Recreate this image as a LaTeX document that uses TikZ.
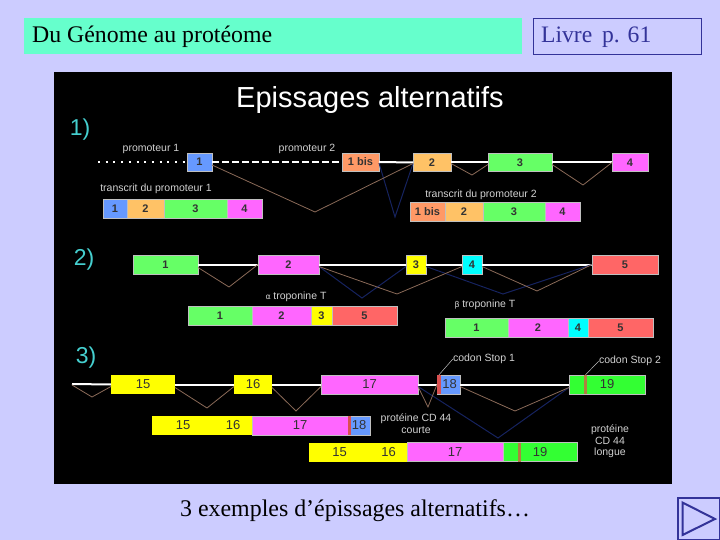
\documentclass[tikz,border=0pt]{standalone}
\usepackage{fontspec}
\setmainfont{Liberation Serif}
\setsansfont{Liberation Sans}
\usepackage{xcolor}
\usetikzlibrary{positioning,calc}
\definecolor{slidebg}{HTML}{CCCCFF}
\definecolor{headbg}{HTML}{66FFCC}
\definecolor{navblue}{HTML}{333399}
\definecolor{numteal}{HTML}{45CFCF}
\definecolor{exblue}{HTML}{6699FF}
\definecolor{exorange}{HTML}{FFC266}
\definecolor{exgreen}{HTML}{66FF66}
\definecolor{exmagenta}{HTML}{FF66FF}
\definecolor{exsalmon}{HTML}{FF9966}
\definecolor{exred}{HTML}{FF6666}
\definecolor{exlime}{HTML}{33FF33}
\definecolor{exyellow}{HTML}{FFFF00}
\definecolor{excyan}{HTML}{00FFFF}
\definecolor{stoprose}{HTML}{D95050}
\definecolor{stopbrown}{HTML}{B08040}
\definecolor{splicebrown}{HTML}{8A6A58}
\definecolor{spliceblue}{HTML}{16235F}

\begin{document}
\begin{tikzpicture}[
		x=1pt,y=-1pt,
		exon/.style={draw=white!75!black, line width=0.6pt, inner sep=0pt, outer sep=0pt, minimum height=18pt,
				font=\sffamily\bfseries\fontsize{11}{11}\selectfont, text=black!80},
		piece/.style={exon, minimum height=19pt, anchor=west},
		bignum/.style={font=\sffamily\fontsize{13}{13}\selectfont},
		intron/.style={draw=white, line width=2pt},
		brownsplice/.style={draw=splicebrown, line width=0.8pt},
		bluesplice/.style={draw=spliceblue, line width=1pt},
		tiny/.style={text=white!82!black, inner sep=0pt, font=\sffamily\fontsize{10.5}{11.5}\selectfont, align=center},
		rownum/.style={text=numteal, inner sep=0pt, font=\sffamily\fontsize{23}{23}\selectfont},
		leader/.style={draw=white!75!black, line width=0.5pt}
	]
	\useasboundingbox (0,0) rectangle (720,540);
	\fill[slidebg] (0,0) rectangle (720,540);
	\fill[black] (54,72) rectangle (672,484);

	\node[fill=headbg, minimum width=498pt, minimum height=36pt, inner sep=0pt] (headbar) at (273,36) {};
	\node[anchor=west, inner sep=0pt, font=\fontsize{23.8}{26}\selectfont] (headtext) at (32,37) {Du Génome au protéome};
	\node[draw=navblue, line width=1.6pt, minimum width=168pt, minimum height=36pt, inner sep=0pt] (bookbox) at (617.5,36.5) {};
	\node[anchor=west, inner sep=0pt, text=navblue, font=\fontsize{23.6}{26}\selectfont] (booktext) at (541,37) {Livre\, p. 61};
	\node[inner sep=0pt, font=\fontsize{23.9}{26}\selectfont] (caption) at (355,511) {3 exemples d’épissages alternatifs…};

	\node[draw=navblue, line width=2pt, minimum size=42pt, inner sep=0pt] (navbox) at (698.5,518.5) {};
	\draw[navblue, line width=2pt] (682.5,502.5) -- (715,519) -- (682.5,535) -- cycle;

	\node[text=white, inner sep=0pt, font=\sffamily\fontsize{29}{30}\selectfont] (title) at (370,100) {Epissages alternatifs};
	\node[rownum] (num1) at (80,130) {1)};
	\node[rownum] (num2) at (84,260) {2)};
	\node[rownum] (num3) at (86,358) {3)};

	\node[exon, fill=exblue, minimum width=25pt] (a1) at (199.5,162) {1};
	\node[exon, fill=exsalmon, minimum width=37pt] (a1b) at (360.5,162) {1 bis};
	\node[exon, fill=exorange, minimum width=38pt] (a2) at (432,162.5) {2};
	\node[exon, fill=exgreen, minimum width=64pt] (a3) at (520,162.5) {3};
	\node[exon, fill=exmagenta, minimum width=36pt] (a4) at (630,162.5) {4};
	\coordinate (astart) at (98,162);
	\draw[white, line width=1.5pt, dash pattern=on 2pt off 5.7pt] (astart) -- (a1.west);
	\draw[intron, dash pattern=on 7pt off 3pt] (a1.east) -- (a1b.west);
	\draw[intron] (a1b.east) -- (a2.west);
	\draw[intron] (a2.east) -- (a3.west);
	\draw[intron] (a3.east) -- (a4.west);
	\coordinate (av1) at (315,212);
	\coordinate (av2) at (472,175);
	\coordinate (av3) at (583,185);
	\coordinate (av4) at (395,217);
	\draw[bluesplice] ([yshift=-1pt]a1b.east) -- (av4) -- ([yshift=-1pt]a2.west);
	\draw[brownsplice] ([yshift=-3pt]a1.east) -- (av1) -- ([yshift=-1pt]a2.west);
	\draw[brownsplice] ([yshift=-1pt]a2.east) -- (av2) -- ([yshift=-2pt]a3.west);
	\draw[brownsplice] ([yshift=-2pt]a3.east) -- (av3) -- (a4.west);
	\node[tiny] (prom1) at (151,148.5) {promoteur 1};
	\node[tiny] (prom2) at (307,149) {promoteur 2};
	\node[tiny] (tlab1) at (156,189) {transcrit du promoteur 1};
	\node[tiny] (tlab2) at (481,195) {transcrit du promoteur 2};

	\node[piece, fill=exblue, minimum width=24pt] (b1) at (103,209) {1};
	\node[piece, fill=exorange, minimum width=37pt, right=0pt of b1] (b2) {2};
	\node[piece, fill=exgreen, minimum width=63pt, right=0pt of b2] (b3) {3};
	\node[piece, fill=exmagenta, minimum width=35pt, right=0pt of b3] (b4) {4};
	\node[piece, fill=exsalmon, minimum width=35pt] (c1) at (410,211.5) {1 bis};
	\node[piece, fill=exorange, minimum width=38pt, right=0pt of c1] (c2) {2};
	\node[piece, fill=exgreen, minimum width=62pt, right=0pt of c2] (c3) {3};
	\node[piece, fill=exmagenta, minimum width=35pt, right=0pt of c3] (c4) {4};

	\node[exon, fill=exgreen, minimum height=19pt, minimum width=65pt] (d1) at (165.5,264.5) {1};
	\node[exon, fill=exmagenta, minimum height=19pt, minimum width=61pt] (d2) at (288.5,264.5) {2};
	\node[exon, fill=exyellow, minimum height=19pt, minimum width=20pt] (d3) at (416,264.5) {3};
	\node[exon, fill=excyan, minimum height=19pt, minimum width=20pt] (d4) at (472,264.5) {4};
	\node[exon, fill=exred, minimum height=19pt, minimum width=66pt] (d5) at (625,264.5) {5};
	\draw[intron] (d1.east) -- (d2.west);
	\draw[intron] (d2.east) -- (d3.west);
	\draw[intron] (d3.east) -- (d4.west);
	\draw[intron] (d4.east) -- (d5.west);
	\coordinate (dv1) at (229,287);
	\coordinate (dv2) at (397,294);
	\coordinate (dv3) at (537,291);
	\coordinate (dv4) at (362,298);
	\coordinate (dv5) at (503,294);
	\draw[bluesplice] ([yshift=-2pt]d2.east) -- (dv4) -- ([yshift=-2pt]d3.west);
	\draw[bluesplice] ([yshift=-2pt]d3.east) -- (dv5) -- (d5.west);
	\draw[brownsplice] ([yshift=-3pt]d1.east) -- (dv1) -- (d2.west);
	\draw[brownsplice] ([yshift=-2pt]d2.east) -- (dv2) -- ([yshift=-2pt]d4.west);
	\draw[brownsplice] ([yshift=-2pt]d4.east) -- (dv3) -- (d5.west);
	\node[tiny] (alab) at (296,297) {\fontspec{DejaVu Sans}\fontsize{8}{9}\selectfont α\ \sffamily\fontsize{10.5}{11}\selectfont troponine T};
	\node[tiny] (blab) at (485,305) {\fontspec{DejaVu Sans}\fontsize{8}{9}\selectfont β\ \sffamily\fontsize{10.5}{11}\selectfont troponine T};

	\node[piece, fill=exgreen, minimum width=64pt] (e1) at (188,315.5) {1};
	\node[piece, fill=exmagenta, minimum width=59pt, right=0pt of e1] (e2) {2};
	\node[piece, fill=exyellow, minimum width=21pt, right=0pt of e2] (e3) {3};
	\node[piece, fill=exred, minimum width=65pt, right=0pt of e3] (e5) {5};
	\node[piece, fill=exgreen, minimum width=63pt] (f1) at (445,327.5) {1};
	\node[piece, fill=exmagenta, minimum width=60pt, right=0pt of f1] (f2) {2};
	\node[piece, fill=excyan, minimum width=20pt, right=0pt of f2] (f4) {4};
	\node[piece, fill=exred, minimum width=65pt, right=0pt of f4] (f5) {5};

	\node[exon, bignum, draw=none, fill=exyellow, minimum height=19pt, minimum width=64pt] (g15) at (143,384.5) {15};
	\node[exon, bignum, draw=none, fill=exyellow, minimum height=19pt, minimum width=38pt] (g16) at (253,384.5) {16};
	\node[exon, bignum, fill=exmagenta, minimum height=19pt, minimum width=97pt] (g17) at (369.5,384.5) {17};
	\node[exon, fill=exblue, minimum height=19pt, minimum width=23pt] (g18) at (448.5,384.5) {};
	\node[exon, bignum, fill=exlime, minimum height=19pt, minimum width=76pt] (g19) at (607,384.5) {19};
	\node[fill=stoprose, minimum width=4pt, minimum height=19pt, inner sep=0pt] (stop18) at (439,384.5) {};
	\node[fill=stopbrown, minimum width=3.5pt, minimum height=19pt, inner sep=0pt] (stop19) at (585.5,384.5) {};
	\node[inner sep=0pt, text=black!80, font=\sffamily\fontsize{13}{13}\selectfont] (g18text) at (449.5,384.5) {18};
	\coordinate (gstart) at (72,384);
	\draw[intron] (gstart) -- (g15.west);
	\draw[intron] (g15.east) -- (g16.west);
	\draw[intron] (g16.east) -- (g17.west);
	\draw[intron] (g17.east) -- (g18.west);
	\draw[intron] (g18.east) -- (g19.west);
	\coordinate (gv1) at (92,397);
	\coordinate (gv2) at (207,408);
	\coordinate (gv3) at (296,411);
	\coordinate (gv4) at (428,407);
	\coordinate (gv5) at (515,411);
	\coordinate (gv6) at (498,438);
	\draw[bluesplice] ([yshift=-2pt]g17.east) -- (gv6) -- ([yshift=-3pt]g19.west);
	\draw[brownsplice] ([yshift=-1pt]gstart) -- (gv1) -- ([yshift=-2pt]g15.west);
	\draw[brownsplice] ([yshift=-3pt]g15.east) -- (gv2) -- ([yshift=-2pt]g16.west);
	\draw[brownsplice] ([yshift=-3pt]g16.east) -- (gv3) -- ([yshift=-2pt]g17.west);
	\draw[brownsplice] ([yshift=-2pt]g17.east) -- (gv4) -- (g18.west);
	\draw[brownsplice] ([yshift=-2pt]g18.east) -- (gv5) -- ([yshift=-3pt]g19.west);
	\node[tiny] (stop1) at (484,359) {codon Stop 1};
	\node[tiny] (stop2) at (630,361) {codon Stop 2};
	\draw[leader] (stop1.west) -- (stop18.north);
	\draw[leader] (stop2.west) -- (stop19.north);
	\node[tiny] (shortlab) at (416,423.5) {protéine CD 44\\courte};
	\node[tiny] (longlab) at (610,441.5) {protéine\\CD 44\\longue};

	\node[piece, bignum, draw=none, fill=exyellow, minimum width=62pt] (h15) at (152,425.5) {15};
	\node[piece, bignum, draw=none, fill=exyellow, minimum width=38pt, right=0pt of h15] (h16) {16};
	\node[piece, bignum, fill=exmagenta, minimum width=96pt, right=0pt of h16] (h17) {17};
	\node[piece, bignum, fill=exblue, minimum width=22pt, right=0pt of h17] (h18) {18};
	\node[fill=stoprose, minimum width=3pt, minimum height=19pt, inner sep=0pt] (hstop) at (349.5,425.5) {};
	\node[piece, bignum, draw=none, fill=exyellow, minimum width=61pt] (i15) at (309,452) {15};
	\node[piece, bignum, draw=none, fill=exyellow, minimum width=37pt, right=0pt of i15] (i16) {16};
	\node[piece, bignum, fill=exmagenta, minimum width=96pt, right=0pt of i16] (i17) {17};
	\node[piece, bignum, fill=exlime, minimum width=74pt, right=0pt of i17] (i19) {19};
	\node[fill=stopbrown, minimum width=3pt, minimum height=19pt, inner sep=0pt] (istop) at (519.5,452) {};
\end{tikzpicture}
\end{document}
